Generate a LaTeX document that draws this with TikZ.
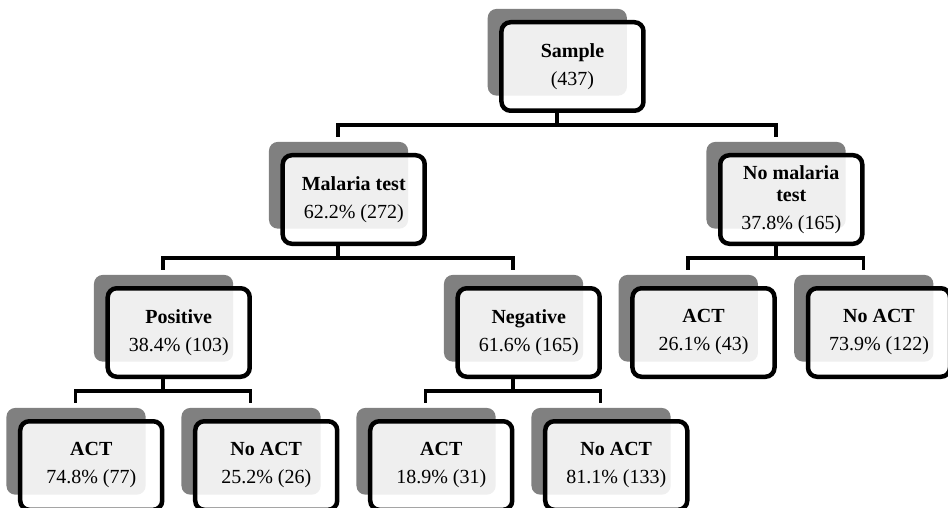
\documentclass[tikz,border=0pt]{standalone}
\usepackage{fontspec}
\setmainfont{Liberation Serif}
\usetikzlibrary{shadows}
\definecolor{backgray}{RGB}{128,128,128}

\begin{document}
\begin{tikzpicture}[every node/.style={draw,line width=4.5pt,rounded corners=9pt,
     fill=white,fill opacity=.88,text opacity=1,align=center,
     minimum width=142pt,minimum height=88.5pt,font=\fontsize{20}{22}\selectfont,
     general shadow={fill=backgray,fill opacity=1,shadow scale=.98,
       shadow xshift=-15.5pt,shadow yshift=14.5pt}},
   level distance=133pt,
   level 1/.style={sibling distance=437.5pt},
   level 2/.style={sibling distance=350pt},
   level 3/.style={sibling distance=175pt},
   edge from parent/.style={draw,line width=3.5pt},
   edge from parent path={([xshift=-15.5pt]\tikzparentnode.south) -- ++(0,-12pt)
     -| ([xshift=-15.5pt,yshift=16pt]\tikzchildnode.north)}]
% page as cut in the reference
\useasboundingbox (-572.5pt,66.5pt) rectangle (375.5pt,-441.5pt);
\node (root) {\textbf{Sample}\\[6pt](437)}
  child {node (malaria) {\textbf{Malaria test}\\[6pt]62.2\% (272)}
    child {node (pos) {\textbf{Positive}\\[6pt]38.4\% (103)}
      child {node {\textbf{ACT}\\[6pt]74.8\% (77)}}
      child {node {\textbf{No ACT}\\[6pt]25.2\% (26)}}
    }
    child {node (neg) {\textbf{Negative}\\[6pt]61.6\% (165)}
      child {node {\textbf{ACT}\\[6pt]18.9\% (31)}}
      child {node {\textbf{No ACT}\\[6pt]81.1\% (133)}}
    }
  }
  child {node (nomalaria) {\textbf{No malaria}\\\textbf{test}\\[6pt]37.8\% (165)}
    child[sibling distance=175.5pt] {node {\textbf{ACT}\\[6pt]26.1\% (43)}}
    child[sibling distance=175.5pt] {node {\textbf{No ACT}\\[6pt]73.9\% (122)}}
  };
\end{tikzpicture}
\end{document}
